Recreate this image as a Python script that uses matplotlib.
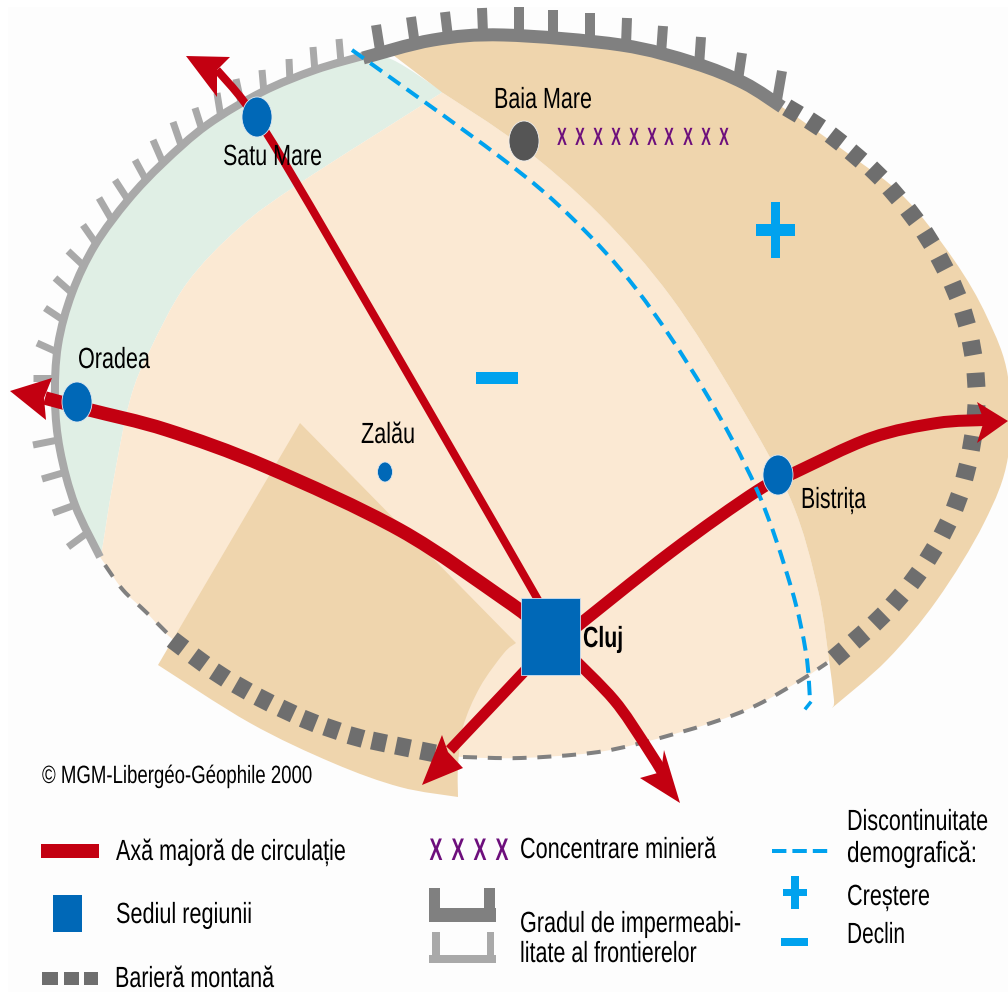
"""
Schematic map of north-west Romania: frontiers, mountain barrier, main axes and towns.
All coordinates are read off the reference in image pixels (y grows downwards).
"""

import matplotlib
matplotlib.use("Agg")
import matplotlib.pyplot as plt
from matplotlib.patches import Ellipse, PathPatch, Polygon, Rectangle
from matplotlib.path import Path
from matplotlib.patheffects import AbstractPathEffect
from matplotlib.transforms import Affine2D
import numpy as np

W, H = 1008, 992
PX = 72 / 100  # one pixel in points at dpi 100

RED = "#c30011"
BLUE = "#0068b7"
SKY = "#00a2ee"
PURPLE = "#6d0f7c"
DARK_FRONTIER = "#808080"
LIGHT_FRONTIER = "#a9a9a9"
BARRIER = "#6e6e6e"
CREAM = "#fbe9d3"
BEIGE = "#efd5ad"
GREEN = "#e0efe5"

# regions
light_line = [(100, 557), (75, 505), (60, 450), (55, 400), (58, 345), (72, 293), (95, 245), (128, 200),
              (163, 163), (207, 125), (262, 92), (315, 70), (363, 56)]
green_top = [(363, 56), (393, 60), (443, 92)]
green_inner = [(443, 92), (427, 102), (300, 183), (240, 227), (187, 283), (150, 350), (130, 400), (113, 483),
               (102, 550), (100, 557)]
cream_right = [(443, 93), (520, 145), (600, 215), (671, 297), (737, 400), (791, 500), (818, 590), (829, 660)]
beige_tail = [(829, 660), (834, 700), (832, 708)]
cream_bottom = [(827, 663), (801, 680), (757, 705), (711, 723), (641, 743), (591, 753), (521, 758), (463, 757),
                (428, 752), (356, 737), (287, 711), (220, 675), (170, 637), (147, 613), (123, 590), (107, 567),
                (100, 557)]
beige_top = [(393, 55), (433, 42), (504, 37), (621, 47), (694, 65), (744, 85), (782, 107), (850, 155),
             (904, 197), (954, 260), (987, 317), (1008, 377), (1008, 457), (984, 523), (937, 600), (887, 660),
             (832, 708)]
beige_low_right = [(516, 643), (504, 653), (480, 687), (463, 727), (458, 767), (458, 797)]
beige_low_bottom = [(458, 797), (400, 787), (333, 763), (250, 723), (158, 665)]
beige_low_tip = [(300, 423), (516, 643)]

# frontiers
dark_line = [(363, 58), (433, 40), (504, 35), (621, 45), (694, 63), (744, 83), (782, 107)]
light_teeth = [((339, 39), (341, 62)), ((313, 47), (315, 72)), ((289, 59), (290, 82)), ((262, 70), (264, 93)),
               ((236, 79), (242, 107)), ((217, 93), (221, 118)), ((195, 108), (202, 130)), ((173, 122), (182, 148)),
               ((153, 140), (163, 163)), ((135, 160), (147, 182)), ((115, 180), (128, 200)), ((99, 198), (113, 222)),
               ((83, 225), (97, 245)), ((68, 251), (85, 267)), ((55, 278), (72, 293)), ((45, 308), (63, 320)),
               ((37, 343), (57, 352)), ((33, 378), (55, 378)), ((33, 445), (58, 440)), ((42, 479), (66, 472)),
               ((53, 513), (75, 505)), ((68, 547), (87, 533))]
dark_teeth = [((376, 25), (380, 50)), ((411, 17), (415, 45)), ((445, 12), (448, 37)), ((482, 8), (483, 33)),
              ((519, 7), (519, 33)), ((553, 10), (553, 35)), ((590, 13), (590, 40)), ((627, 18), (626, 45)),
              ((663, 26), (661, 54)), ((701, 37), (699, 66)), ((742, 53), (738, 80)), ((782, 71), (777, 100))]

# mountain barrier squares (centres, in drawing order along each arc)
barrier_east = [(793, 111), (815, 124), (836, 139), (856, 156), (876, 173), (894, 193), (912, 215), (928, 238),
                (942, 263), (955, 290), (965, 318), (972, 348), (976, 380), (976, 412), (972, 443), (966, 472),
                (957, 502), (945, 529), (931, 554), (915, 578), (897, 600), (879, 619), (859, 637), (839, 654)]
barrier_west = [(178, 644), (199, 660), (220, 675), (242, 688), (264, 700), (287, 711), (309, 721), (332, 729),
                (356, 737), (379, 742), (403, 747), (428, 752)]
thin_west = [(105, 565), (123, 590), (147, 613), (172, 638)]
thin_south = [(463, 757), (521, 758), (591, 753), (641, 743), (711, 723), (757, 705), (801, 680), (827, 663)]

# demographic discontinuity
discontinuity = [(352, 50), (500, 157), (571, 217), (637, 290), (704, 390), (757, 490), (791, 587), (806, 653),
                 (810, 700)]
discontinuity_hook = [(810, 703), (806, 708)]

# red axes and arrow heads
axis_west = [(535, 622), (504, 599), (400, 530), (267, 467), (167, 430), (90, 410), (45, 398)]
axis_north = [(545, 612), (423, 400), (283, 160), (245, 103), (217, 70)]
axis_east = [(570, 632), (671, 552), (757, 491), (794, 473), (871, 438), (937, 423), (985, 420)]
axis_sw = [(535, 660), (504, 693), (450, 750)]
axis_se = [(570, 655), (614, 700), (644, 743), (664, 775)]
head_west = [(10, 391), (52, 378), (44, 398), (46, 420)]
head_north = [(186, 56), (230, 57), (217, 70), (217, 97)]
head_east = [(1008, 421), (977, 402), (984, 421), (977, 443)]
head_sw = [(422, 785), (442, 735), (448, 752), (463, 768)]
head_se = [(680, 803), (640, 778), (661, 772), (664, 750)]

# towns: x, y, width, height
towns = [(257, 117, 30, 40), (77, 402, 30, 40), (778, 475, 30, 40), (385, 472, 15, 20)]
baia_mare = (524, 141, 30, 40)
cluj_box = (521, 598, 59, 77)

mining_x = [562, 580, 598, 616, 634, 652, 669, 688, 706, 724]
legend_mining_x = [436, 458, 480, 502]

# text, left x, right x, baseline y, font size
map_labels = [("Baia Mare", 494, 592, 108, 21), ("Satu Mare", 223, 322, 165, 21), ("Oradea", 78, 150, 368, 21),
              ("Zalău", 361, 415, 443, 21), ("Bistrița", 801, 866, 508, 21)]
copyright_label = ("© MGM-Libergéo-Géophile 2000", 42, 312, 783, 18)
legend_labels = [("Axă majoră de circulație", 116, 346, 860, 21), ("Sediul regiunii", 116, 252, 923, 21),
                 ("Barieră montană", 115, 274, 987, 21), ("Concentrare minieră", 520, 716, 858, 21),
                 ("Gradul de impermeabi-", 520, 741, 932, 21), ("litate al frontierelor", 520, 697, 962, 21),
                 ("Discontinuitate", 847, 988, 830, 21), ("demografică:", 847, 977, 862, 21),
                 ("Creștere", 847, 930, 905, 21), ("Declin", 847, 905, 943, 21)]


class Squeeze(AbstractPathEffect):
    # the reference uses a condensed face; narrow the glyphs around a fixed x
    def __init__(self, anchor, factor):
        super().__init__()
        self.anchor = anchor
        self.factor = factor

    def draw_path(self, renderer, gc, tpath, affine, rgbFace=None):
        squeeze = Affine2D().translate(-self.anchor, 0).scale(self.factor, 1).translate(self.anchor, 0)
        renderer.draw_path(gc, tpath, affine + squeeze, rgbFace)


def spline_path(points):
    pts = np.array(points, dtype=float)
    ext = np.vstack([pts[0], pts, pts[-1]])
    verts = [pts[0]]
    codes = [Path.MOVETO]
    for i in range(1, len(ext) - 2):
        c1 = ext[i] + (ext[i + 1] - ext[i - 1]) / 6
        c2 = ext[i + 1] - (ext[i + 2] - ext[i]) / 6
        verts += [c1, c2, ext[i + 1]]
        codes += [Path.CURVE4] * 3
    return Path(verts, codes)


def fill_spline(ax, sections, color, z):
    verts, codes = [], []
    for section in sections:
        p = spline_path(section)
        verts += list(p.vertices)
        c = list(p.codes)
        if codes:
            c[0] = Path.LINETO
        codes += c
    verts.append(verts[0])
    codes.append(Path.CLOSEPOLY)
    ax.add_patch(PathPatch(Path(verts, codes), facecolor=color, edgecolor="none", zorder=z))


def stroke(ax, points, color, width, z, dashes=None):
    patch = PathPatch(spline_path(points), facecolor="none", edgecolor=color, linewidth=width * PX,
                      capstyle="butt", zorder=z)
    if dashes:
        patch.set_linestyle((0, dashes))
    ax.add_patch(patch)


def teeth(ax, pairs, color, width):
    for tip, base in pairs:
        ax.plot([tip[0], base[0]], [tip[1], base[1]], color=color, linewidth=width * PX,
                solid_capstyle="butt", zorder=4)


def squares(ax, centres, length=14.5, depth=18):
    pts = np.array(centres, dtype=float)
    for i, c in enumerate(pts):
        a = pts[max(i - 1, 0)]
        b = pts[min(i + 1, len(pts) - 1)]
        d = (b - a) / np.hypot(*(b - a)) * length / 2
        ax.plot([c[0] - d[0], c[0] + d[0]], [c[1] - d[1], c[1] + d[1]], color=BARRIER,
                linewidth=depth * PX, solid_capstyle="butt", zorder=4)


def fitted_label(ax, renderer, label, x0, x1, y, size, weight="normal"):
    t = ax.text(x0, y, label, fontsize=size, fontweight=weight, color="black", ha="left", va="baseline", zorder=9)
    width = t.get_window_extent(renderer).width
    factor = (x1 - x0) / width
    anchor = x0
    if x0 + width > W:  # keep the unsqueezed box inside the figure
        t.set_x(x1)
        t.set_ha("right")
        anchor = x1
    t.set_path_effects([Squeeze(anchor, factor)])


def cross_mark(ax, x, y, size, factor):
    t = ax.text(x, y, "X", color=PURPLE, fontsize=size, fontweight="bold", ha="center", va="center", zorder=8)
    t.set_path_effects([Squeeze(x, factor)])


def main():
    plt.rcParams["font.family"] = ["Liberation Sans", "DejaVu Sans"]
    fig = plt.figure(figsize=(W / 100, H / 100), dpi=100)
    ax = fig.add_axes([0, 0, 1, 1])
    ax.set_xlim(0, W)
    ax.set_ylim(H, 0)
    ax.axis("off")
    renderer = fig.canvas.get_renderer()
    ax.add_patch(Rectangle((8, 7), W - 8, H - 7, facecolor="#fdfdfd", edgecolor="none", zorder=0))

    # regions
    fill_spline(ax, [light_line, green_top, green_inner], GREEN, 1)
    fill_spline(ax, [cream_right, cream_bottom, green_inner[::-1]], CREAM, 1)
    fill_spline(ax, [beige_top, beige_tail[::-1], cream_right[::-1]], BEIGE, 2)
    fill_spline(ax, [beige_low_tip, beige_low_right, beige_low_bottom], BEIGE, 2)

    # frontiers and barrier
    stroke(ax, light_line, LIGHT_FRONTIER, 8, 4)
    stroke(ax, dark_line, DARK_FRONTIER, 13, 4)
    teeth(ax, light_teeth, LIGHT_FRONTIER, 7)
    teeth(ax, dark_teeth, DARK_FRONTIER, 10)
    squares(ax, barrier_east)
    squares(ax, barrier_west)
    stroke(ax, thin_west, DARK_FRONTIER, 4, 4, dashes=(3.5, 3))
    stroke(ax, thin_south, DARK_FRONTIER, 4, 4, dashes=(3.5, 2.7))

    # red axes
    stroke(ax, axis_north, RED, 8, 5)
    stroke(ax, axis_west, RED, 13.5, 5)
    stroke(ax, axis_east, RED, 12, 5)
    stroke(ax, axis_sw, RED, 11, 5)
    stroke(ax, axis_se, RED, 11, 5)
    for head in [head_west, head_north, head_east, head_sw, head_se]:
        ax.add_patch(Polygon(head, closed=True, facecolor=RED, edgecolor="none", zorder=5))

    stroke(ax, discontinuity, SKY, 4, 6, dashes=(3.6, 2))
    ax.plot(*zip(*discontinuity_hook), color=SKY, linewidth=3.5 * PX, zorder=6)

    # towns
    for x, y, w, h in towns:
        ax.add_patch(Ellipse((x, y), w, h, facecolor=BLUE, edgecolor="#dfe8f0", linewidth=0.6, zorder=7))
    x, y, w, h = baia_mare
    ax.add_patch(Ellipse((x, y), w, h, facecolor="#555555", edgecolor="#eeeeee", linewidth=0.6, zorder=7))
    ax.add_patch(Rectangle(cluj_box[:2], cluj_box[2], cluj_box[3], facecolor=BLUE, edgecolor="#cfe0f0",
                           linewidth=0.6, zorder=7))

    # plus and minus on the map
    ax.add_patch(Rectangle((756, 224), 39, 12, facecolor=SKY, edgecolor="none", zorder=6))
    ax.add_patch(Rectangle((771, 202), 9, 56, facecolor=SKY, edgecolor="none", zorder=6))
    ax.add_patch(Rectangle((476, 372), 42, 12, facecolor=SKY, edgecolor="none", zorder=6))

    for x in mining_x:
        cross_mark(ax, x, 138, 18, 0.58)

    # legend marks
    ax.add_patch(Rectangle((41, 844), 58, 14, facecolor=RED, edgecolor="none"))
    ax.add_patch(Rectangle((53, 895), 29, 37, facecolor=BLUE, edgecolor="none"))
    for x0, w0 in [(42, 16), (64, 15), (84, 14)]:
        ax.add_patch(Rectangle((x0, 972), w0, 13, facecolor=BARRIER, edgecolor="none"))
    for x in legend_mining_x:
        cross_mark(ax, x, 852, 22.5, 0.62)
    ax.add_patch(Rectangle((429, 908), 67, 14, facecolor=DARK_FRONTIER, edgecolor="none"))
    ax.add_patch(Rectangle((429, 888), 11, 20, facecolor=DARK_FRONTIER, edgecolor="none"))
    ax.add_patch(Rectangle((484, 888), 11, 20, facecolor=DARK_FRONTIER, edgecolor="none"))
    ax.add_patch(Rectangle((429, 955), 67, 8, facecolor=LIGHT_FRONTIER, edgecolor="none"))
    ax.add_patch(Rectangle((432, 932), 8, 23, facecolor=LIGHT_FRONTIER, edgecolor="none"))
    ax.add_patch(Rectangle((487, 932), 7, 23, facecolor=LIGHT_FRONTIER, edgecolor="none"))
    ax.plot([772, 828], [851, 851], color=SKY, linewidth=4 * PX, linestyle=(0, (3.6, 1.5)))
    ax.add_patch(Rectangle((783, 889), 24, 7, facecolor=SKY, edgecolor="none"))
    ax.add_patch(Rectangle((791, 876), 8, 33, facecolor=SKY, edgecolor="none"))
    ax.add_patch(Rectangle((781, 938), 27, 8, facecolor=SKY, edgecolor="none"))

    # text
    for label, x0, x1, y, size in map_labels + [copyright_label] + legend_labels:
        fitted_label(ax, renderer, label, x0, x1, y, size)
    fitted_label(ax, renderer, "Cluj", 583, 623, 647, 21, weight="bold")

    fig.savefig("out.png", dpi=100)
    plt.close(fig)


main()
